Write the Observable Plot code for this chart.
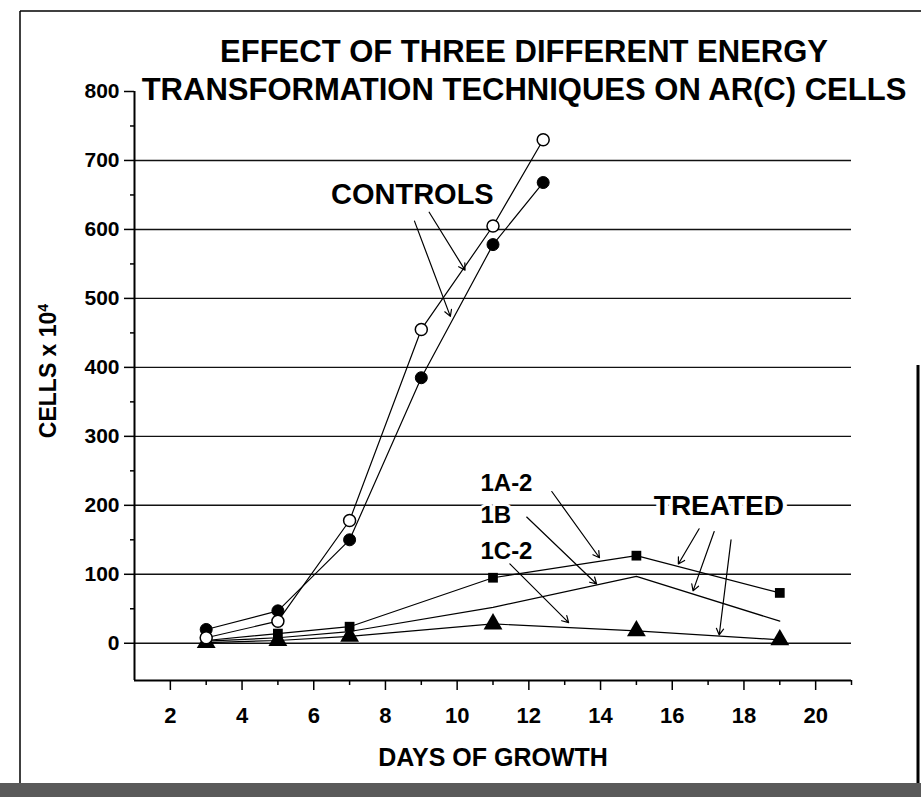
<!DOCTYPE html>
<html>
<head>
<meta charset="utf-8">
<script src="https://cdn.jsdelivr.net/npm/d3@7"></script>
<script src="https://cdn.jsdelivr.net/npm/@observablehq/plot@0.6"></script>
<style>
  body { margin: 0; background: #fff; }
  #wrap { position: relative; width: 921px; height: 799px; overflow: hidden; background: #fff; }
  #wrap svg.overlay { position: absolute; left: 0; top: 0; pointer-events: none; }
  #chart { position: absolute; left: 0; top: 0; }
</style>
</head>
<body>
<div id="wrap">
  <div id="chart"></div>
  <svg class="overlay" width="921" height="799" font-family="'Liberation Sans', Arial, sans-serif" font-weight="bold">
    <!-- scanned page frame -->
    <line x1="20" y1="11" x2="921" y2="11" stroke="#000" stroke-width="1.5"/>
    <line x1="20" y1="11" x2="20" y2="792" stroke="#000" stroke-width="1.5"/>
    <line x1="918" y1="365" x2="918" y2="797" stroke="#000" stroke-width="3"/>
    <rect x="0" y="783" width="921" height="14" fill="#5a5a5a"/>
    <text x="524" y="62" text-anchor="middle" font-size="31" fill="#000">EFFECT OF THREE DIFFERENT ENERGY</text>
    <text x="524" y="100" text-anchor="middle" font-size="31" fill="#000">TRANSFORMATION TECHNIQUES ON AR(C) CELLS</text>
  </svg>
</div>
<script>
// ---- data ----
const controlDays    = [3, 5, 7, 9, 11, 12.4];
const controlsOpen   = [8, 32, 178, 455, 605, 730];
const controlsFilled = [20, 47, 150, 385, 578, 668];

const treatedDays = [3, 5, 7, 11, 15, 19];
const series1A2   = [4, 14, 24, 95, 127, 73];
const series1B    = [3, 8, 17, 52, 97, 32];
const series1C2   = [1, 4, 10, 28, 18, 5];

const xDomain = [1, 21];
const yDomain = [-54, 800];
const xTicks  = [2, 4, 6, 8, 10, 12, 14, 16, 18, 20];
const xMinor  = [3, 5, 7, 9, 11, 13, 15, 17, 19, 21];
const yTicks  = [0, 100, 200, 300, 400, 500, 600, 700, 800];
const yMinor  = [50, 150, 250, 350, 450, 550, 650, 750];
const gridY   = [0, 100, 200, 300, 400, 500, 600, 700];

// annotation labels
const labelControls = [{text: "CONTROLS", x: 8.75, y: 651}];
const labelTreated  = [{text: "TREATED", x: 17.3, y: 199}];
const seriesLabels  = [
  {text: "1A-2", x: 10.65, y: 232},
  {text: "1B",   x: 10.65, y: 186},
  {text: "1C-2", x: 10.65, y: 134}
];
// annotation arrows (data coordinates)
const arrows = [
  {x1: 8.81,  y1: 612, x2: 9.81,  y2: 474},
  {x1: 9.22,  y1: 625, x2: 10.22, y2: 541},
  {x1: 12.64, y1: 220, x2: 13.97, y2: 124},
  {x1: 11.94, y1: 183, x2: 13.89, y2: 86},
  {x1: 11.47, y1: 115, x2: 13.11, y2: 30},
  {x1: 16.75, y1: 166, x2: 16.17, y2: 115},
  {x1: 17.17, y1: 162, x2: 16.58, y2: 76},
  {x1: 17.64, y1: 150, x2: 17.31, y2: 12}
];

const toRows = (xs, ys) => xs.map((d, i) => ({x: d, y: ys[i]}));
const open   = toRows(controlDays, controlsOpen);
const filled = toRows(controlDays, controlsFilled);
const s1A2   = toRows(treatedDays, series1A2);
const s1B    = toRows(treatedDays, series1B);
const s1C2   = toRows(treatedDays, series1C2);

const FONT = "'Liberation Sans', Arial, Helvetica, sans-serif";

const chart = Plot.plot({
  width: 921,
  height: 799,
  marginTop: 91,
  marginBottom: 119,
  marginLeft: 134,
  marginRight: 70,
  x: {domain: xDomain},
  y: {domain: yDomain},
  style: {fontFamily: FONT, fontWeight: "bold", color: "#000", background: "transparent", overflow: "visible"},
  marks: [
    // gridlines
    Plot.ruleY(gridY, {stroke: "#111", strokeWidth: 1.4}),
    // axis lines
    Plot.ruleX([xDomain[0]], {stroke: "#000", strokeWidth: 2}),
    Plot.ruleY([yDomain[0]], {stroke: "#000", strokeWidth: 2}),
    // y axis ticks and labels
    Plot.axisY({ticks: yTicks, tickSize: 10, tickPadding: 5, fontSize: 21, label: null, strokeWidth: 1.5}),
    Plot.axisY({ticks: yMinor, tickSize: 4, text: null, label: null, strokeWidth: 1.5}),
    // x axis ticks and labels
    Plot.axisX({ticks: xTicks, tickSize: 10, tickPadding: 17, fontSize: 22, label: null, strokeWidth: 1.5}),
    Plot.axisX({ticks: xMinor, tickSize: 5, text: null, label: null, strokeWidth: 1.5}),
    // axis titles
    Plot.text(["DAYS OF GROWTH"], {frameAnchor: "bottom", dy: 77, lineAnchor: "middle", fontSize: 25, fontWeight: "bold"}),
    Plot.text(["CELLS x 10"], {frameAnchor: "left", textAnchor: "middle", lineAnchor: "middle", dx: -86, dy: -15, rotate: -90, fontSize: 23, fontWeight: "bold"}),
    // data lines
    Plot.line(open,   {x: "x", y: "y", stroke: "#000", strokeWidth: 1.2}),
    Plot.line(filled, {x: "x", y: "y", stroke: "#000", strokeWidth: 1.2}),
    Plot.line(s1A2,   {x: "x", y: "y", stroke: "#000", strokeWidth: 1.2}),
    Plot.line(s1B,    {x: "x", y: "y", stroke: "#000", strokeWidth: 1.2}),
    Plot.line(s1C2,   {x: "x", y: "y", stroke: "#000", strokeWidth: 1.2}),
    // markers
    Plot.dot(s1C2,   {x: "x", y: "y", symbol: "triangle", r: 7, fill: "#000", stroke: "none"}),
    Plot.dot(s1A2,   {x: "x", y: "y", symbol: "square", r: 5.5, fill: "#000", stroke: "none"}),
    Plot.dot(filled, {x: "x", y: "y", r: 6, fill: "#000", stroke: "#000", strokeWidth: 1}),
    Plot.dot(open,   {x: "x", y: "y", r: 6, fill: "#fff", stroke: "#000", strokeWidth: 1.5}),
    // annotations
    Plot.text(seriesLabels, {x: "x", y: "y", text: "text", textAnchor: "start", lineAnchor: "middle", fontSize: 24, fontWeight: "bold", stroke: "#fff", strokeWidth: 6, fill: "#000"}),
    Plot.text(labelTreated, {x: "x", y: "y", text: "text", textAnchor: "middle", lineAnchor: "middle", fontSize: 28, fontWeight: "bold", stroke: "#fff", strokeWidth: 8, fill: "#000"}),
    Plot.text(labelControls, {x: "x", y: "y", text: "text", textAnchor: "middle", lineAnchor: "middle", fontSize: 29, fontWeight: "bold", fill: "#000"}),
    Plot.arrow(arrows, {x1: "x1", y1: "y1", x2: "x2", y2: "y2", stroke: "#000", strokeWidth: 1.2, headLength: 9, bend: false})
  ]
});

// superscript 4 on the y-axis title
chart.querySelectorAll("text").forEach(t => {
  if (t.textContent === "CELLS x 10") {
    const ts = document.createElementNS("http://www.w3.org/2000/svg", "tspan");
    ts.setAttribute("baseline-shift", "super");
    ts.setAttribute("font-size", "14");
    ts.textContent = "4";
    t.appendChild(ts);
  }
});

document.getElementById("chart").appendChild(chart);
</script>
</body>
</html>
